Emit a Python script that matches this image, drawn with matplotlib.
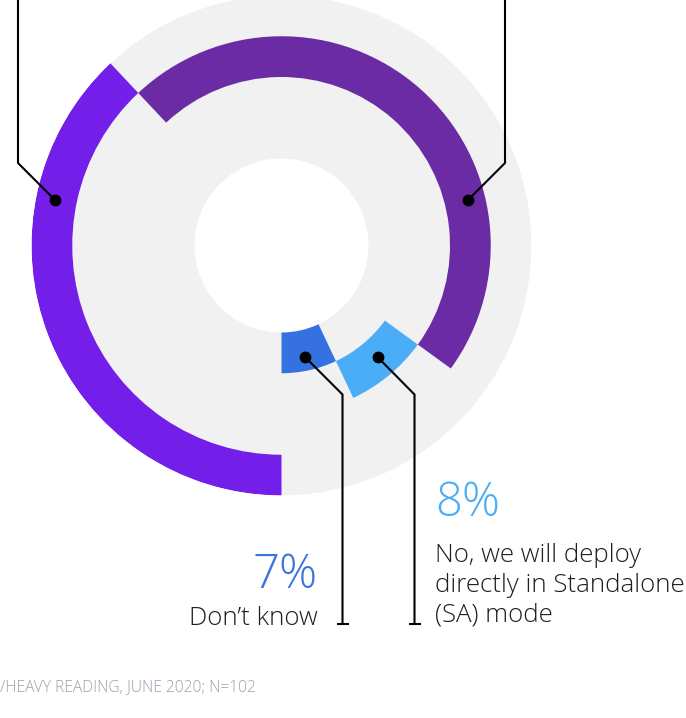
import numpy as np
import matplotlib
matplotlib.use("Agg")
import matplotlib.pyplot as plt

# ---------------- data ----------------
categories = ["(label above, cut off)", "(label above, cut off)",
              "No, we will deploy directly in Standalone (SA) mode", "Don’t know"]
values = [38, 47, 8, 7]          # percent, clockwise from 6 o'clock
colors = ["#741EEA", "#6B2BA5", "#4BADF7", "#3571E1"]
pct_labels = ["8%", "7%"]
source_text = "/HEAVY READING, JUNE 2020; N=102"

plt.rcParams['font.family'] = ['Open Sans', 'DejaVu Sans']

W, H = 686, 718
fig = plt.figure(figsize=(W / 100, H / 100), dpi=100)

# ---------------- radial chart ----------------
cx, cy, R = 281.5, 245.5, 250.0
ax = fig.add_axes([(cx - R) / W, (H - cy - R) / H, 2 * R / W, 2 * R / H],
                  projection='polar')
ax.set_theta_zero_location('S')
ax.set_theta_direction(-1)
ax.set_ylim(0, R)
ax.set_axis_off()

r_in, band = 87.0, 40.75
fracs = np.array(values) / sum(values)
widths = fracs * 2 * np.pi
starts = np.concatenate([[0], np.cumsum(widths)[:-1]])
n = len(values)
# grey tracks
ax.bar(starts, R - r_in, width=widths, bottom=r_in, align='edge',
       color="#F1F1F1", linewidth=0)
# coloured bands: outermost first
for i in range(n):
    bottom = r_in + (n - 1 - i) * band
    ax.bar(starts[i], band, width=widths[i], bottom=bottom, align='edge',
           color=colors[i], linewidth=0)

# ---------------- annotation overlay (pixel coords) ----------------
ov = fig.add_axes([0, 0, 1, 1], zorder=5)
ov.set_xlim(0, W)
ov.set_ylim(H, 0)
ov.set_axis_off()
ov.patch.set_alpha(0)

lw = 1.5
def leader(pts, tick=False):
    xs, ys = zip(*pts)
    ov.plot(xs, ys, color="black", lw=lw, solid_capstyle='butt',
            solid_joinstyle='miter')
    ov.plot([xs[0]], [ys[0]], 'o', color="black", ms=7.5)
    if tick:
        ov.plot([xs[-1] - 6, xs[-1] + 6], [ys[-1], ys[-1]], color="black",
                lw=lw, solid_capstyle='butt')

leader([(55, 200), (18, 163), (18, -5)])
leader([(468, 200), (505, 163), (505, -5)])
leader([(305, 357), (342.5, 394.5), (342.5, 623.5)], tick=True)
leader([(377.5, 357), (414.5, 394.5), (414.5, 623.5)], tick=True)

txt_kw = dict(fontweight='light')
lab_fs = 18.6
ov.text(318, 588, pct_labels[1], color="#3A74DE", fontsize=34,
        ha='right', va='baseline', **txt_kw)
ov.text(318, 625, categories[3], color="#1E1E1E", fontsize=lab_fs,
        ha='right', va='baseline', **txt_kw)

ov.text(435, 516, pct_labels[0], color="#4BADF7", fontsize=34,
        ha='left', va='baseline', **txt_kw)
for k, line in enumerate(["No, we will deploy", "directly in Standalone",
                          "(SA) mode"]):
    ov.text(435, 561.5 + 30 * k, line, color="#1E1E1E", fontsize=lab_fs,
            ha='left', va='baseline', **txt_kw)

ov.text(0, 691, source_text, color="#9A9FAE", fontsize=11.2,
        ha='left', va='baseline', **txt_kw)

fig.savefig("out.png", dpi=100)
